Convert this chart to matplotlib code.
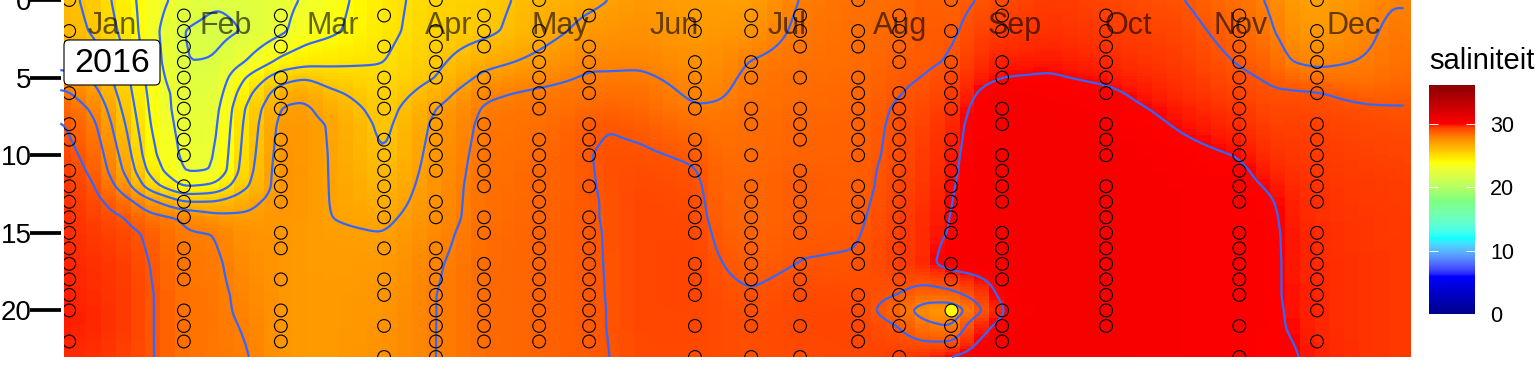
import numpy as np
import matplotlib
matplotlib.use("Agg")
import matplotlib.pyplot as plt
from matplotlib.colors import LinearSegmentedColormap, Normalize
from matplotlib.cm import ScalarMappable
from matplotlib.patches import FancyBboxPatch

plt.rcParams['font.family'] = ['Liberation Sans', 'DejaVu Sans']

# ---- data -----------------------------------------------------------------
month_names = ['Jan','Feb','Mar','Apr','May','Jun','Jul','Aug','Sep','Oct','Nov','Dec']
month_days = [15,45.8,74.7,106,136,167,197.4,228,259,289.6,320,350.4]
year_label = '2016'

depth_levels = [0,2,4,5,6,7,8,10,11,12,13,14,15,17,19,20,21,23]

# salinity per depth_levels, at the day of year given in each name
d002 = [26.3,26.4,26.7,27.3,28.2,28.7,29.05,29.35,29.5,29.6,29.65,29.7,29.72,29.8,29.85,29.85,29.85,29.75]
d010 = [25.7,25.9,26.45,26.85,27.3,27.8,28.15,28.6,28.8,29.05,29.25,29.4,29.5,29.65,29.7,29.75,29.75,29.65]
d018 = [24.4,24.7,25.05,25.3,25.5,25.75,26.05,26.6,26.9,27.5,28.4,29.0,29.25,29.45,29.5,29.5,29.5,29.4]
d025 = [23.5,23.4,23.55,23.65,23.75,23.85,23.95,24.3,24.7,25.5,27.3,28.3,28.85,29.0,29.1,29.1,29.1,29.1]
d034 = [22.6,21.95,21.98,22.2,22.5,22.5,22.6,22.75,22.9,23.9,26.0,27.9,28.05,28.25,28.3,28.3,28.3,28.35]
d043 = [22.1,21.7,22.05,22.2,22.4,22.6,22.7,22.9,23.0,24.2,26.05,27.3,28.0,28.15,28.2,28.2,28.2,28.2]
d051 = [22.25,22.05,23.0,24.0,24.6,25.05,25.2,25.4,25.55,25.85,26.7,27.15,27.4,27.6,27.8,27.85,27.95,28.1]
d061 = [22.7,22.8,24.3,25.6,26.6,27.1,27.3,27.45,27.5,27.45,27.4,27.35,27.35,27.35,27.35,27.35,27.35,27.35]
d067 = [23.1,23.5,24.65,25.95,26.85,27.15,27.25,27.3,27.3,27.3,27.3,27.25,27.2,27.2,27.2,27.2,27.2,27.2]
d074 = [23.6,23.8,24.8,25.5,26.2,26.65,26.95,26.98,26.98,26.98,26.98,27.0,27.1,27.15,27.2,27.2,27.2,27.2]
d088 = [24.7,24.75,24.98,25.2,25.4,25.6,25.75,25.97,26.15,26.35,26.55,26.8,27.0,27.2,27.3,27.35,27.4,27.45]
d102 = [25.4,25.5,25.8,26.0,26.5,27.0,27.2,27.35,27.4,27.45,27.5,27.55,27.7,27.9,28.0,28.0,28.0,28.0]
d115 = [25.6,25.75,26.7,27.25,27.85,28.1,28.2,28.3,28.35,28.4,28.4,28.4,28.45,28.5,28.5,28.5,28.5,28.5]
d130 = [26.4,26.6,27.25,27.7,28.15,28.3,28.4,28.55,28.6,28.6,28.65,28.65,28.7,28.7,28.7,28.7,28.7,28.7]
d144 = [26.8,27.3,27.85,28.1,28.35,28.55,28.85,28.98,28.96,28.95,28.94,28.94,28.93,28.93,28.92,28.92,28.92,28.9]
d149 = [27.0,27.35,27.85,28.1,28.4,28.7,28.98,29.1,29.1,29.08,29.05,29.05,29.03,29.02,29.01,29.0,29.0,28.98]
d158 = [27.3,27.5,27.85,28.15,28.4,28.6,28.85,29.1,29.2,29.25,29.3,29.3,29.3,29.3,29.3,29.3,29.3,29.25]
d172 = [27.1,27.2,27.5,27.7,27.85,28.05,28.4,28.9,29.05,29.15,29.2,29.25,29.3,29.35,29.35,29.3,29.3,29.25]
d179 = [27.05,27.3,27.6,27.75,27.9,28.1,28.3,28.5,28.6,28.65,28.7,28.75,28.85,29.02,29.15,29.2,29.2,29.2]
d188 = [27.05,27.4,28.05,28.2,28.3,28.4,28.45,28.5,28.55,28.6,28.6,28.6,28.65,28.8,29.05,29.1,29.15,29.15]
d201 = [28.05,28.2,28.35,28.45,28.5,28.55,28.65,28.7,28.8,28.9,28.85,28.85,28.9,29.02,29.25,29.3,29.3,29.25]
d217 = [28.4,28.45,28.5,28.55,28.6,28.65,28.7,28.75,28.8,28.8,28.85,28.9,28.95,29.05,29.2,29.3,29.35,29.3]
d228 = [28.5,28.6,28.8,28.9,28.98,29.1,29.15,29.2,29.25,29.3,29.35,29.4,29.45,29.45,29.0,28.6,29.0,29.5]
d235 = [28.85,28.95,28.9,29.02,29.15,29.25,29.4,29.5,29.55,29.6,29.65,29.7,29.75,29.75,28.6,27.4,28.3,29.7]
d242 = [28.7,28.85,29.05,29.3,29.45,29.6,29.75,29.85,29.9,29.95,29.98,30.02,30.05,30.35,28.7,27.2,27.9,30.05]
d248 = [29.0,29.3,29.65,29.8,30.0,30.15,30.2,30.25,30.25,30.25,30.3,30.3,30.3,30.4,29.3,28.6,29.7,30.3]
d256 = [29.25,29.5,29.85,30.0,30.3,30.4,30.4,30.4,30.4,30.4,30.4,30.4,30.4,30.4,30.2,30.05,30.2,30.4]
d268 = [29.5,29.65,29.9,30.05,30.25,30.35,30.4,30.4,30.4,30.4,30.4,30.4,30.4,30.4,30.4,30.4,30.4,30.4]
d284 = [29.35,29.5,29.75,29.9,30.1,30.2,30.3,30.4,30.4,30.4,30.4,30.4,30.4,30.4,30.4,30.4,30.4,30.4]
d304 = [29.05,29.3,29.5,29.6,29.7,29.85,29.95,30.15,30.2,30.25,30.25,30.25,30.25,30.25,30.25,30.25,30.25,30.25]
d320 = [28.4,28.65,28.95,29.15,29.35,29.55,29.7,29.98,30.1,30.15,30.2,30.2,30.2,30.2,30.2,30.2,30.2,30.2]
d328 = [27.9,28.15,28.65,28.9,29.1,29.25,29.4,29.65,29.8,29.95,30.05,30.1,30.1,30.1,30.1,30.1,30.1,30.0]
d333 = [27.2,27.5,28.0,28.6,29.1,29.3,29.4,29.55,29.65,29.75,29.82,29.85,29.9,29.92,29.92,29.95,29.97,30.1]
d341 = [27.0,27.2,27.8,28.35,29.05,29.25,29.4,29.5,29.55,29.6,29.65,29.65,29.7,29.7,29.75,29.75,29.75,29.8]
d355 = [27.6,27.85,28.1,28.3,28.7,29.1,29.25,29.4,29.45,29.5,29.5,29.55,29.55,29.6,29.6,29.6,29.6,29.6]
d360 = [27.95,28.2,28.35,28.5,28.8,29.05,29.22,29.38,29.42,29.48,29.48,29.52,29.52,29.55,29.55,29.55,29.55,29.55]
d366 = [27.95,28.1,28.35,28.55,28.8,29.05,29.2,29.35,29.4,29.45,29.45,29.5,29.5,29.5,29.5,29.5,29.5,29.5]

grid_days = [2,10.4,18.5,25.2,34.4,42.8,50.9,60.6,67.1,73.9,88.5,102.5,115.5,130.4,143.9,149,157.7,172.5,179.2,
             187.7,200.9,216.6,227.7,234.7,241.7,248.2,255.5,268.4,283.6,303.6,319.6,328,333.4,340.6,355,360.4,366]
grid_columns = [d002,d010,d018,d025,d034,d043,d051,d061,d067,d074,d088,d102,d115,d130,d144,d149,d158,d172,d179,
                d188,d201,d217,d228,d235,d242,d248,d256,d268,d284,d304,d320,d328,d333,d341,d355,d360,d366]

# sampling stations: day of year and sampled depths
station_days = [3.4,34.4,60.6,88.5,102.5,115.5,130.4,143.9,172.5,187.7,200.9,216.6,227.7,241.7,255.5,283.6,319.6,340.6]
station_depths = [
 [0,2,3,4,5,6,8,9,11,12,13,14,15,16,17,18,19,20,22],
 [1,2,3,4,5,6,7,8,9,10,12,13,14,16,17,18,20,21,22],
 [1,2,3,5,6,7,9,10,11,12,13,15,16,18,20,21,22],
 [1,3,5,6,7,9,10,11,12,13,14,16,18,19,21,23],
 [0,2,3,4,5,7,8,9,10,11,13,14,16,17,18,19,20,21,22,23],
 [1,2,3,5,6,8,9,10,11,12,14,15,17,18,19,20,21,22],
 [0,2,3,4,5,6,7,9,10,11,12,13,14,15,16,17,18,19,20,21,22],
 [1,3,4,5,6,8,9,10,12,14,15,16,17,18,19,20,21,22],
 [1,2,4,5,6,7,9,10,11,13,14,15,17,18,19,21,23],
 [1,2,4,5,7,8,10,12,13,14,15,16,17,18,19,20,21,23],
 [1,2,3,5,7,8,9,11,12,13,14,15,17,18,19,21,23],
 [0,2,3,5,6,7,8,9,10,12,13,14,16,17,19,20,21,22],
 [1,2,3,4,6,7,8,9,10,11,12,13,14,15,16,17,18,19,20,21,23],
 [0,2,4,5,6,7,9,10,11,12,13,14,15,17,18,21,22],
 [0,1,2,4,5,7,8,10,11,12,13,15,16,17,18,20,21,22],
 [1,2,3,4,5,6,8,9,10,12,13,14,15,16,17,18,19,20,21],
 [1,2,3,4,5,6,7,8,9,10,11,12,13,15,16,17,18,19,21,23],
 [0,2,3,4,5,6,8,9,10,11,12,13,15,16,17,18,19,20,22],
]
yellow_day = [241.7]
yellow_depth = [20]
yellow_salinity = [24.0]

contour_levels = [22,23,24,25,26,27,28,29,30]
colour_stops = [0,6,12,18,24,30,36.2]
colour_names = ['#00008B','#0000FF','#00FFFF','#7FFF7F','#FFFF00','#FF0000','#8B0000']
depth_ticks = [0,5,10,15,20]
legend_ticks = [0,10,20,30]

# ---- colour scale, interpolated in Lab like the source --------------------
def srgb_to_lab(c):
    c = np.asarray(c, float)
    lin = np.where(c > 0.04045, ((c + 0.055) / 1.055) ** 2.4, c / 12.92)
    M = np.array([[.4124564,.3575761,.1804375],[.2126729,.7151522,.0721750],[.0193339,.1191920,.9503041]])
    xyz = lin @ M.T / np.array([.95047,1,1.08883])
    f = np.where(xyz > 0.008856, np.cbrt(xyz), 7.787 * xyz + 16 / 116)
    return np.stack([116 * f[..., 1] - 16, 500 * (f[..., 0] - f[..., 1]), 200 * (f[..., 1] - f[..., 2])], -1)

def lab_to_srgb(lab):
    fy = (lab[..., 0] + 16) / 116
    f = np.stack([fy + lab[..., 1] / 500, fy, fy - lab[..., 2] / 200], -1)
    xyz = np.where(f ** 3 > 0.008856, f ** 3, (f - 16 / 116) / 7.787) * np.array([.95047,1,1.08883])
    M = np.linalg.inv(np.array([[.4124564,.3575761,.1804375],[.2126729,.7151522,.0721750],[.0193339,.1191920,.9503041]]))
    lin = np.clip(xyz @ M.T, 0, 1)
    return np.clip(np.where(lin > 0.0031308, 1.055 * lin ** (1 / 2.4) - 0.055, 12.92 * lin), 0, 1)

stop_rgb = np.array([matplotlib.colors.to_rgb(c) for c in colour_names])
stop_lab = srgb_to_lab(stop_rgb)
vmin, vmax = colour_stops[0], colour_stops[-1]
samples = np.linspace(vmin, vmax, 1024)
lab_samples = np.stack([np.interp(samples, colour_stops, stop_lab[:, i]) for i in range(3)], -1)
cmap = LinearSegmentedColormap.from_list('sal', lab_to_srgb(lab_samples), N=1024)
norm = Normalize(vmin, vmax)

# ---- surface from the read values -----------------------------------------
table = np.array(grid_columns).T
fine_days = np.arange(1, 366.01, 1.0)
fine_depths = np.arange(0, 23.001, 0.1)
by_day = np.array([np.interp(fine_days, grid_days, row) for row in table])
surface = np.array([np.interp(fine_depths, depth_levels, by_day[:, j]) for j in range(len(fine_days))]).T

def smooth(a, sigma, axis):
    r = int(3 * sigma) + 1
    k = np.exp(-0.5 * (np.arange(-r, r + 1) / sigma) ** 2)
    k /= k.sum()
    pad = [(0, 0), (0, 0)]
    pad[axis] = (r, r)
    return np.apply_along_axis(lambda v: np.convolve(v, k, mode='valid'), axis, np.pad(a, pad, mode='edge'))

surface = smooth(smooth(surface, 1.6, 1), 1.5, 0)

# ---- figure ---------------------------------------------------------------
W, H = 1536, 384
fig = plt.figure(figsize=(W / 100, H / 100), dpi=100, facecolor='white')
ax = fig.add_axes([64 / W, 1 - 357 / H, (1411 - 64) / W, 357 / H])

ax.pcolormesh(fine_days[1::4], fine_depths[::2], surface[::2, 1::4], cmap=cmap, norm=norm, shading='nearest', zorder=1)
keep = fine_days <= 364.5
cs = ax.contour(fine_days[keep], fine_depths, surface[:, keep], levels=contour_levels,
                colors='#3366FF', linewidths=1.6, zorder=2)
cs.set_clip_on(False)

for day, depths in zip(station_days, station_depths):
    ax.scatter([day] * len(depths), depths, s=85, facecolors='none', edgecolors='black', linewidths=0.8, zorder=3)
ax.scatter(yellow_day, yellow_depth, c=yellow_salinity, cmap=cmap, norm=norm, s=85,
           edgecolors='black', linewidths=0.8, zorder=3)

for name, day in zip(month_names, month_days):
    ax.text(day, 1.7, name, ha='center', va='center', fontsize=22, color='black', alpha=0.6, zorder=4)

box = FancyBboxPatch((64, H - 85), 96, 45, boxstyle='round,pad=0,rounding_size=5', fc='white', ec='black',
                     lw=0.8, transform=None, zorder=5, clip_on=False)
ax.add_patch(box)
fig.text(112 / W, 1 - 63.5 / H, year_label, ha='center', va='center', fontsize=24.5, color='black', zorder=6)

ax.set_xlim(2, 366)
ax.set_ylim(23, 0)
ax.set_xticks([])
ax.set_yticks([])
for s in ax.spines.values():
    s.set_visible(False)

sec = ax.secondary_yaxis(-3 / 1347)
sec.set_yticks(depth_ticks)
sec.set_yticklabels([str(v) for v in depth_ticks])
sec.tick_params(axis='y', length=22, width=2.7, pad=-1, labelsize=20, color='black', labelcolor='black')
sec.spines['left'].set_visible(False)

# ---- legend ---------------------------------------------------------------
cax = fig.add_axes([1429 / W, 1 - 314 / H, 46 / W, 229 / H])
cb = fig.colorbar(ScalarMappable(norm=norm, cmap=cmap), cax=cax)
cb.outline.set_visible(False)
cb.set_ticks(legend_ticks)
cax.tick_params(axis='y', left=True, right=True, labelleft=False, labelright=True, direction='in',
                color='white', length=6.6, width=0.7, pad=11, labelsize=15.5)
fig.text(1429 / W, 1 - 61 / H, 'saliniteit', fontsize=21, ha='left', va='center')

fig.savefig('out.png', dpi=100)
